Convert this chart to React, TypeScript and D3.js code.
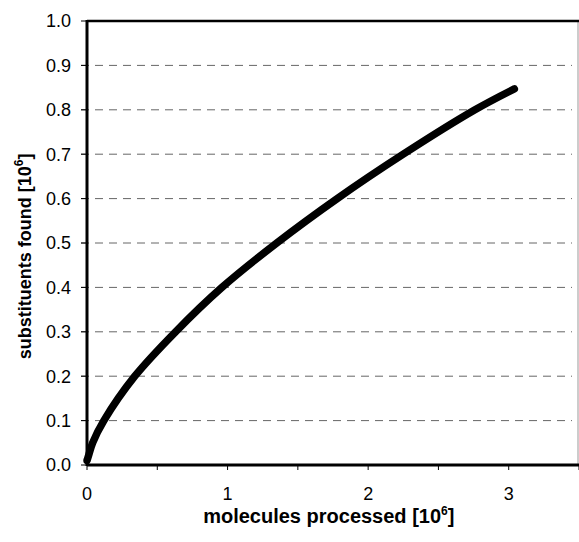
import React, { useEffect, useRef } from 'react';
import * as d3 from 'd3';

// molecules processed [10^6] vs substituents found [10^6]
const moleculesProcessed = [0, 0.01, 0.04, 0.12, 0.34, 0.63, 0.96, 1.35, 1.78, 2.25, 2.76, 3.04];
const substituentsFound = [0.01, 0.02, 0.05, 0.1, 0.2, 0.3, 0.4, 0.5, 0.6, 0.7, 0.8, 0.847];
const xTicks = [0, 0.5, 1, 1.5, 2, 2.5, 3, 3.5];
const xLabels = [0, 1, 2, 3];
const yTicks = [0, 0.1, 0.2, 0.3, 0.4, 0.5, 0.6, 0.7, 0.8, 0.9, 1.0];

const W = 579;
const H = 542;

const App = () => {
  const svgRef = useRef<SVGSVGElement>(null);

  useEffect(() => {
    const margin = { top: 21, right: 0, bottom: 77, left: 87 };
    const width = W - margin.left - margin.right;
    const height = H - margin.top - margin.bottom;

    d3.select(svgRef.current).selectAll('*').remove();

    const svg = d3.select(svgRef.current)
      .attr('width', W)
      .attr('height', H)
      .append('g')
      .attr('transform', `translate(${margin.left},${margin.top})`);

    const x = d3.scaleLinear().domain([0, 3.5]).range([0, width]);
    const y = d3.scaleLinear().domain([0, 1]).range([height, 0]);

    const font = 'Arial, "Liberation Sans", sans-serif';

    // dashed grid
    svg.selectAll('.grid')
      .data(yTicks.filter(d => d > 0 && d < 1))
      .enter().append('line')
      .attr('class', 'grid')
      .attr('x1', -6)
      .attr('x2', width - 7)
      .attr('y1', d => y(d))
      .attr('y2', d => y(d))
      .attr('stroke', '#666')
      .attr('stroke-width', 1)
      .attr('stroke-dasharray', '8,6');

    // y axis ticks + labels
    svg.selectAll('.ytick')
      .data(yTicks)
      .enter().append('line')
      .attr('x1', -6).attr('x2', 0)
      .attr('y1', d => y(d)).attr('y2', d => y(d))
      .attr('stroke', '#000').attr('stroke-width', 1);

    svg.selectAll('.ylab')
      .data(yTicks)
      .enter().append('text')
      .attr('x', -16)
      .attr('y', d => y(d))
      .attr('dy', '0.36em')
      .attr('text-anchor', 'end')
      .attr('font-family', font)
      .attr('font-size', 18)
      .text(d => d3.format('.1f')(d));

    // x axis ticks + labels
    svg.selectAll('.xtick')
      .data(xTicks)
      .enter().append('line')
      .attr('x1', d => x(d)).attr('x2', d => x(d))
      .attr('y1', height).attr('y2', height + 5)
      .attr('stroke', '#000').attr('stroke-width', 1);

    svg.selectAll('.xlab')
      .data(xLabels)
      .enter().append('text')
      .attr('x', d => x(d))
      .attr('y', height + 35)
      .attr('text-anchor', 'middle')
      .attr('font-family', font)
      .attr('font-size', 18)
      .text(d => d);

    // frame
    svg.append('line').attr('x1', width - 1).attr('x2', width - 1).attr('y1', 0).attr('y2', height)
      .attr('stroke', '#999').attr('stroke-width', 1);
    svg.append('line').attr('x1', 0).attr('x2', width).attr('y1', 0).attr('y2', 0)
      .attr('stroke', '#000').attr('stroke-width', 2.5);
    svg.append('line').attr('x1', 0).attr('x2', width).attr('y1', height).attr('y2', height)
      .attr('stroke', '#000').attr('stroke-width', 3);
    svg.append('line').attr('x1', 0).attr('x2', 0).attr('y1', -1).attr('y2', height + 1)
      .attr('stroke', '#000').attr('stroke-width', 3);

    // curve
    const pts = moleculesProcessed.map((m, i) => [m, substituentsFound[i]] as [number, number]);
    const line = d3.line<[number, number]>()
      .x(d => x(d[0]))
      .y(d => y(d[1]))
      .curve(d3.curveCatmullRom.alpha(0.5));

    svg.append('path')
      .datum(pts)
      .attr('d', line)
      .attr('fill', 'none')
      .attr('stroke', '#000')
      .attr('stroke-width', 7.5)
      .attr('stroke-linecap', 'round')
      .attr('stroke-linejoin', 'round');

    // axis titles
    const xt = svg.append('text')
      .attr('x', x(1.72))
      .attr('y', height + 58)
      .attr('text-anchor', 'middle')
      .attr('font-family', font)
      .attr('font-weight', 'bold')
      .attr('font-size', 20);
    xt.append('tspan').text('molecules processed [10');
    xt.append('tspan').attr('font-size', 12).attr('dy', -8).text('6');
    xt.append('tspan').attr('dy', 8).text(']');

    const yt = svg.append('text')
      .attr('transform', `translate(${-56},${y(0.47)}) rotate(-90)`)
      .attr('text-anchor', 'middle')
      .attr('font-family', font)
      .attr('font-weight', 'bold')
      .attr('font-size', 18);
    yt.append('tspan').text('substituents found [10');
    yt.append('tspan').attr('font-size', 12).attr('dy', -8).text('6');
    yt.append('tspan').attr('dy', 8).text(']');
  }, []);

  return (
    <div style={{ position: 'absolute', left: 0, top: 0, width: W, height: H, background: '#fff' }}>
      <svg ref={svgRef} style={{ display: 'block' }}></svg>
    </div>
  );
};

export default App;
